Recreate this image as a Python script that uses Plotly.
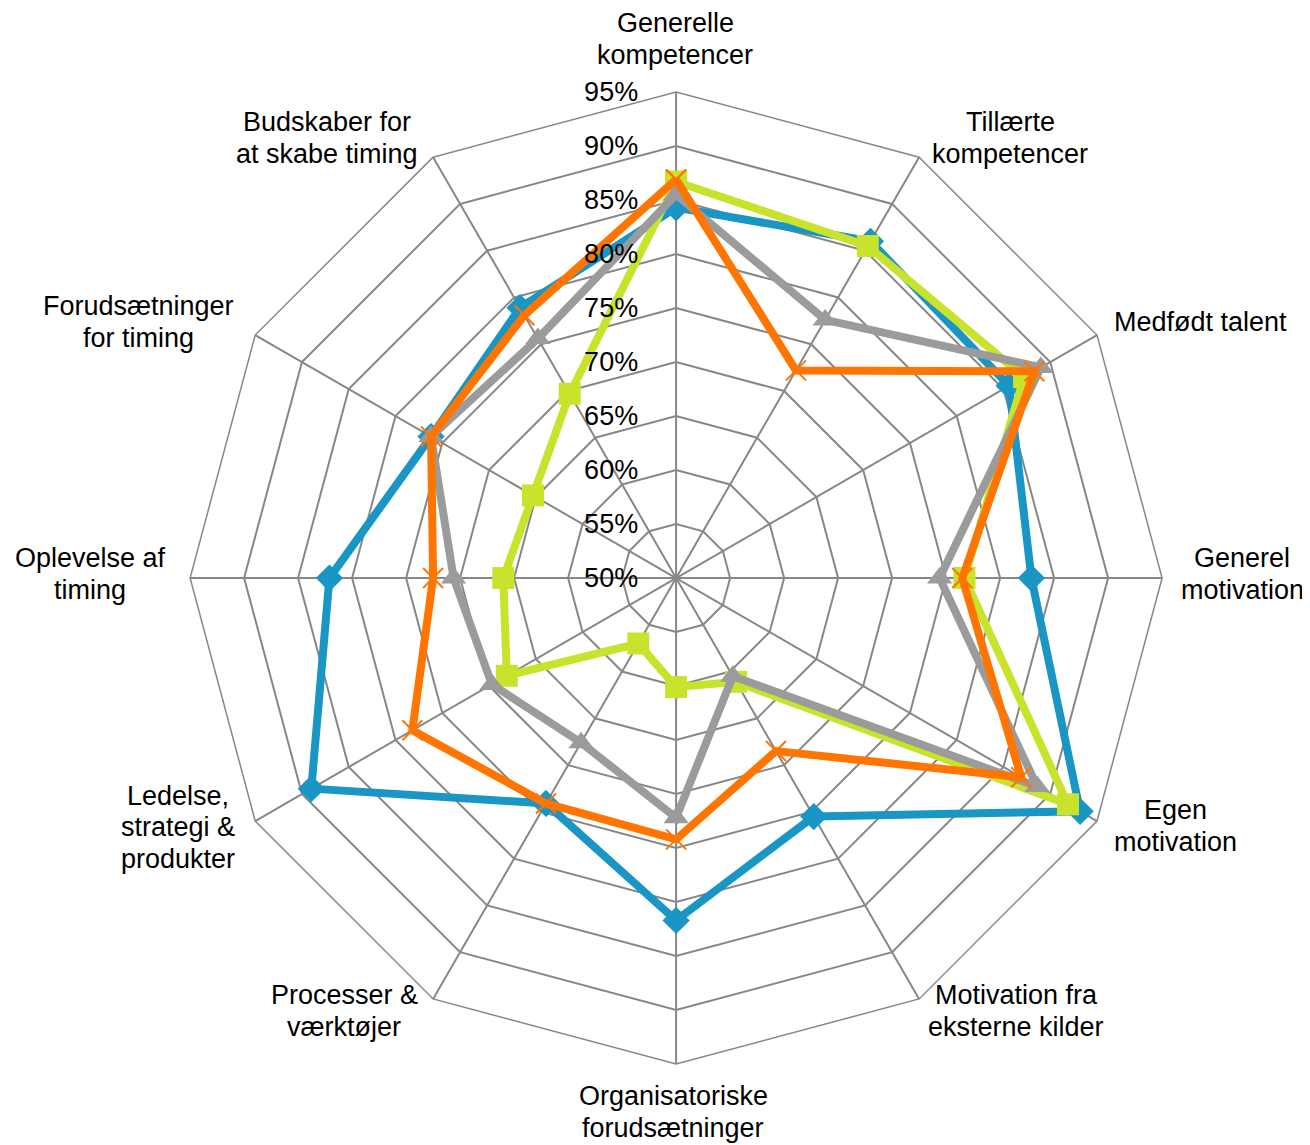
import plotly.graph_objects as go

categories = [
    "Generelle<br>kompetencer",
    "Tillærte<br>kompetencer",
    "Medfødt talent",
    "Generel<br>motivation",
    "Egen<br>motivation",
    "Motivation fra<br>eksterne kilder",
    "Organisatoriske<br>forudsætninger",
    "Processer &<br>værktøjer",
    "Ledelse,<br>strategi &<br>produkter",
    "Oplevelse af<br>timing",
    "Forudsætninger<br>for timing",
    "Budskaber for<br>at skabe timing",
]

blue_values = [84.3, 86.0, 85.6, 82.9, 93.2, 75.5, 81.7, 74.1, 89.0, 82.1, 76.2, 78.9]
lime_values = [86.7, 85.5, 87.2, 76.7, 91.9, 61.1, 60.1, 57.0, 68.1, 66.0, 65.3, 69.7]
gray_values = [85.5, 77.6, 89.0, 74.4, 88.6, 60.5, 72.2, 67.6, 69.7, 70.6, 76.2, 75.6]
orange_values = [86.9, 72.2, 88.3, 76.5, 86.9, 68.5, 74.2, 74.1, 78.2, 72.5, 76.2, 78.1]

tick_vals = [50, 55, 60, 65, 70, 75, 80, 85, 90, 95]
tick_text = ["50%", "55%", "60%", "65%", "70%", "75%", "80%", "85%", "90%", "95%"]

# category label block centres (pixels in the page, from top-left)
label_cx = [675, 1010, 1200, 1242, 1175, 1016, 673, 344, 178, 90, 138, 327]
label_cy = [39, 138, 322, 574, 826, 1011, 1112, 1011, 827, 574, 322, 138]
LINE_GAP = 31.5
PAGE_OFFSET = 8  # default body margin of the html page
W, H = 1310, 1145

series = [
    ("blue", blue_values, "#1A96C4", "diamond", 21, None),
    ("lime", lime_values, "#C9E22B", "square", 22, None),
    ("gray", gray_values, "#9B9B9B", "triangle-up", 22, None),
    ("orange", orange_values, "#FF7500", "x-thin", 20, 2),
]

fig = go.Figure()
for name, vals, color, sym, size, lw in series:
    r = vals + vals[:1]
    th = categories + categories[:1]
    marker = dict(symbol=sym, size=size, color=color)
    if lw:
        marker["line"] = dict(width=lw, color=color)
    else:
        marker["line"] = dict(width=0)
    fig.add_trace(go.Scatterpolar(
        r=r, theta=th, mode="lines+markers", name=name,
        line=dict(color=color, width=8),
        marker=marker,
    ))

annotations = []
for text, cx, cy in zip(categories, label_cx, label_cy):
    lines = text.split("<br>")
    n = len(lines)
    for i, ln in enumerate(lines):
        y = cy + (i - (n - 1) / 2) * LINE_GAP - PAGE_OFFSET
        x = cx - PAGE_OFFSET
        annotations.append(dict(
            text=ln, x=x / W, y=1 - y / H, xref="paper", yref="paper",
            xanchor="center", yanchor="middle", showarrow=False,
            borderpad=0,
            font=dict(size=27, color="black"),
        ))

grid = "#878787"
fig.update_layout(
    width=W, height=H,
    margin=dict(l=0, r=0, t=0, b=0),
    paper_bgcolor="white",
    showlegend=False,
    font=dict(family="Liberation Sans, Arial, sans-serif", size=27, color="black"),
    annotations=annotations,
    polar=dict(
        domain=dict(x=[0.1390, 0.8810], y=[0.0777, 0.9266]),
        bgcolor="white",
        gridshape="linear",
        radialaxis=dict(
            range=[50, 95], tickvals=tick_vals, ticktext=tick_text,
            angle=90, tickangle=90, side="counterclockwise",
            showline=False, ticks="outside", ticklen=28,
            tickcolor="rgba(0,0,0,0)",
            gridcolor=grid, gridwidth=1.5,
            tickfont=dict(size=27),
        ),
        angularaxis=dict(
            direction="clockwise", rotation=90,
            showline=True, linecolor=grid, linewidth=1.5,
            gridcolor=grid, gridwidth=1.5, ticks="",
            showticklabels=False,
        ),
    ),
)

fig.write_html("out.html")
